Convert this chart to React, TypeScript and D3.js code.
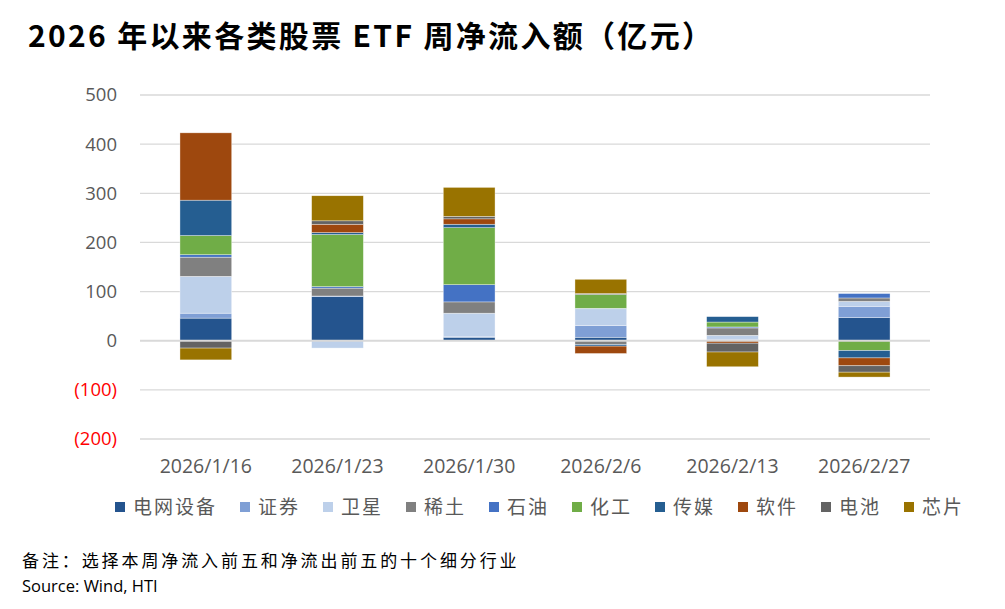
import React from 'react';
import * as d3 from 'd3';

// 类别（周）
const categories = ['2026/1/16', '2026/1/23', '2026/1/30', '2026/2/6', '2026/2/13', '2026/2/27'];

// 各行业周净流入额（亿元）
const seriesNames = ['电网设备', '证券', '卫星', '稀土', '石油', '化工', '传媒', '软件', '电池', '芯片'];
const dianwang = [46, 90, 7, 7, 1, 47];
const zhengquan = [10, 1, 2, 24, 2, 23];
const weixing = [75, -15, 47, 34, 8, 10];
const xitu = [39, 16, 23, -8, 15, 7];
const shiyou = [5, 3, 35, 1, 2, 9];
const huagong = [39, 106, 116, 28, 10, -20];
const chuanmei = [72, 4, 7, -3, 11, -15];
const ruanjian = [137, 17, 11, -15, -5, -16];
const dianchi = [-15, 7, 5, 2, -18, -13];
const xinpian = [-24, 51, 59, 29, -30, -10];
const seriesValues = [dianwang, zhengquan, weixing, xitu, shiyou, huagong, chuanmei, ruanjian, dianchi, xinpian];

const yTicks = [500, 400, 300, 200, 100, 0, -100, -200];

const colors = ['#24548e', '#7f9fd5', '#bdd0ea', '#808080', '#4472c4', '#70ad47', '#255e91', '#9e480e', '#636363', '#997300'];

const W = 1005;
const H = 609;
const left = 140;
const right = 930;

const App: React.FC = () => {
  const x = d3.scaleBand<string>()
    .domain(categories)
    .range([left, right])
    .paddingInner(0.607)
    .paddingOuter(0.3035);

  const y = d3.scaleLinear().domain([-200, 500]).range([439, 95]);

  const rows = categories.map((c, i) => {
    const r: Record<string, number | string> = { cat: c };
    seriesNames.forEach((s, j) => { r[s] = seriesValues[j][i]; });
    return r;
  });

  const stacked = d3.stack<Record<string, number | string>>()
    .keys(seriesNames)
    .value((d, k) => d[k] as number)
    .offset(d3.stackOffsetDiverging)(rows);

  // 图例位置
  let lx = 115;
  const legendItems = seriesNames.map((s, i) => {
    const item = { name: s, x: lx, color: colors[i] };
    lx += 41 + 21 * s.length;
    return item;
  });

  const numFont = '"Open Sans", "Liberation Sans", sans-serif';
  const cjkFont = '"Noto Sans CJK SC", sans-serif';

  return (
    <svg width={W} height={H} style={{ position: 'absolute', left: 0, top: 0, background: '#fff' }}>
      <rect width={W} height={H} fill="#fff" />
      <text x={28} y={47} fontFamily={cjkFont} fontWeight={700} fontSize={30} fill="#000"
        textLength={684} lengthAdjust="spacing">
        2026 年以来各类股票 ETF 周净流入额（亿元）
      </text>

      {/* 网格线 */}
      {yTicks.filter(t => t !== 0).map(t => (
        <line key={t} x1={left} x2={right} y1={y(t)} y2={y(t)} stroke="#d9d9d9" strokeWidth={1.3} />
      ))}

      {/* Y 轴标签 */}
      {yTicks.map(t => (
        <text key={t} x={117} y={y(t)} dy="0.35em" textAnchor="end" fontFamily={numFont}
          fontSize={18.5} fill={t < 0 ? '#ff0000' : '#595959'}>
          {t < 0 ? `(${-t})` : t}
        </text>
      ))}

      {/* 堆积柱 */}
      {stacked.map((layer, j) => (
        <g key={layer.key} fill={colors[j]}>
          {layer.map((d, i) => {
            const y0 = y(d[0]);
            const y1 = y(d[1]);
            const h = Math.abs(y0 - y1);
            if (h < 0.01) return null;
            return (
              <rect key={i} x={x(categories[i])} width={x.bandwidth()} y={Math.min(y0, y1)} height={h}
                stroke="#ffffff" strokeWidth={0.6} strokeOpacity={0.6} />
            );
          })}
        </g>
      ))}

      {/* 零线 */}
      <line x1={left} x2={right} y1={y(0)} y2={y(0)} stroke="#d9d9d9" strokeWidth={2} />

      {/* X 轴标签 */}
      {categories.map(c => (
        <text key={c} x={(x(c) as number) + x.bandwidth() / 2} y={473} textAnchor="middle"
          fontFamily={numFont} fontSize={19.5} fill="#595959">
          {c}
        </text>
      ))}

      {/* 图例 */}
      {legendItems.map(it => (
        <g key={it.name}>
          <rect x={it.x} y={502} width={10} height={10} fill={it.color} />
          <text x={it.x + 18} y={514} fontFamily={cjkFont} fontSize={19} letterSpacing={2} fill="#595959">
            {it.name}
          </text>
        </g>
      ))}

      {/* 备注 */}
      <text x={22} y={567} fontFamily={cjkFont} fontSize={17} letterSpacing={2.9} fill="#000">
        备注：选择本周净流入前五和净流出前五的十个细分行业
      </text>
      <text x={22} y={592} fontFamily={numFont} fontSize={16.5} fill="#000">
        Source: Wind, HTI
      </text>
    </svg>
  );
};

export default App;
